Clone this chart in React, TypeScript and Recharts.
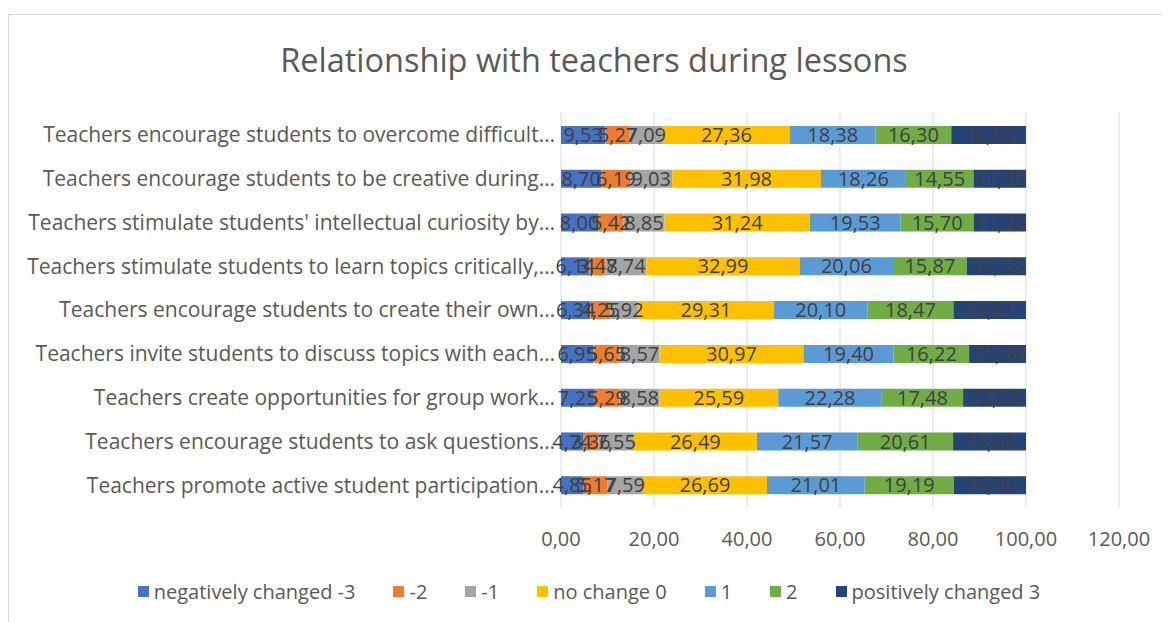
import React from 'react'
import { BarChart, Bar, XAxis, YAxis, CartesianGrid, Legend, LabelList } from 'recharts'

const categories = [
  'Teachers encourage students to overcome difficult…',
  'Teachers encourage students to be creative during…',
  "Teachers stimulate students' intellectual curiosity by…",
  'Teachers stimulate students to learn topics critically,…',
  'Teachers encourage students to create their own…',
  'Teachers invite students to discuss topics with each…',
  'Teachers create opportunities for group work…',
  'Teachers encourage students to ask questions…',
  'Teachers promote active student participation…',
]

const negative3 = [9.53, 8.7, 8.0, 6.14, 6.34, 6.95, 7.25, 4.74, 4.85]
const negative2 = [5.27, 6.19, 5.42, 3.47, 4.25, 5.65, 5.29, 3.36, 5.17]
const negative1 = [7.09, 9.03, 8.85, 8.74, 5.92, 8.57, 8.58, 7.55, 7.59]
const noChange = [27.36, 31.98, 31.24, 32.99, 29.31, 30.97, 25.59, 26.49, 26.69]
const positive1 = [18.38, 18.26, 19.53, 20.06, 20.1, 19.4, 22.28, 21.57, 21.01]
const positive2 = [16.3, 14.55, 15.7, 15.87, 18.47, 16.22, 17.48, 20.61, 19.19]
const positive3 = [16.06, 11.3, 11.26, 12.72, 15.61, 12.24, 13.53, 15.68, 15.5]

const xTicks = [0, 20, 40, 60, 80, 100, 120]

const series = [
  { key: 'n3', name: 'negatively changed -3', values: negative3, color: '#4472C4' },
  { key: 'n2', name: '-2', values: negative2, color: '#ED7D31' },
  { key: 'n1', name: '-1', values: negative1, color: '#A5A5A5' },
  { key: 'z0', name: 'no change 0', values: noChange, color: '#FFC000' },
  { key: 'p1', name: '1', values: positive1, color: '#5B9BD5' },
  { key: 'p2', name: '2', values: positive2, color: '#70AD47' },
  { key: 'p3', name: 'positively changed 3', values: positive3, color: '#264478' },
]

const data = categories.map((name, i) => {
  const row: any = { name }
  series.forEach(s => (row[s.key] = s.values[i]))
  return row
})

const fmt = (v: any) => Number(v).toFixed(2).replace('.', ',')
const FONT = '"Open Sans", Lato, sans-serif'

// legend in series order (recharts would sort it by name otherwise)
const renderLegend = () => (
  <div style={{ display: 'flex', justifyContent: 'center', gap: 38, fontFamily: FONT, fontSize: 20, color: '#595959' }}>
    {series.map(s => (
      <span key={s.key} style={{ display: 'flex', alignItems: 'center' }}>
        <span style={{ width: 11, height: 11, background: s.color, marginRight: 5, display: 'inline-block' }} />
        {s.name}
      </span>
    ))}
  </div>
)

export default function App() {
  return (
    <div style={{ position: 'relative', width: 1161, height: 607, marginTop: 6, borderLeft: '1px solid #d9d9d9', borderTop: '1px solid #d9d9d9', background: '#fff' }}>
      <div style={{ position: 'absolute', top: 22, left: 0, width: 1170, textAlign: 'center', fontFamily: FONT, fontSize: 32.5, color: '#595959' }}>
        Relationship with teachers during lessons
      </div>
      <BarChart
        width={1160}
        height={606}
        data={data}
        layout="vertical"
        barSize={18}
        margin={{ top: 98, right: 50, bottom: 80, left: 0 }}
        style={{ fontFamily: FONT }}
      >
        <CartesianGrid horizontal={false} stroke="#d9d9d9" />
        <XAxis
          type="number"
          domain={[0, 120]}
          ticks={xTicks}
          tickFormatter={fmt}
          axisLine={false}
          tickLine={false}
          tickSize={0}
          tickMargin={25}
          height={34}
          tick={{ fill: '#595959', fontSize: 20 }}
        />
        <YAxis
          type="category"
          dataKey="name"
          width={552}
          axisLine={false}
          tickLine={false}
          tickSize={0}
          tickMargin={6}
          interval={0}
          tick={{ fill: '#595959', fontSize: 21 }}
        />
        <Legend
          layout="horizontal"
          verticalAlign="middle"
          align="center"
          content={renderLegend}
          wrapperStyle={{ top: 563, left: 0, width: 1160 }}
        />
        {series.map(s => (
          <Bar key={s.key} dataKey={s.key} name={s.name} stackId="a" fill={s.color} isAnimationActive={false}>
            <LabelList dataKey={s.key} position="center" formatter={fmt} fill="#404040" fontSize={20} />
          </Bar>
        ))}
      </BarChart>
    </div>
  )
}
